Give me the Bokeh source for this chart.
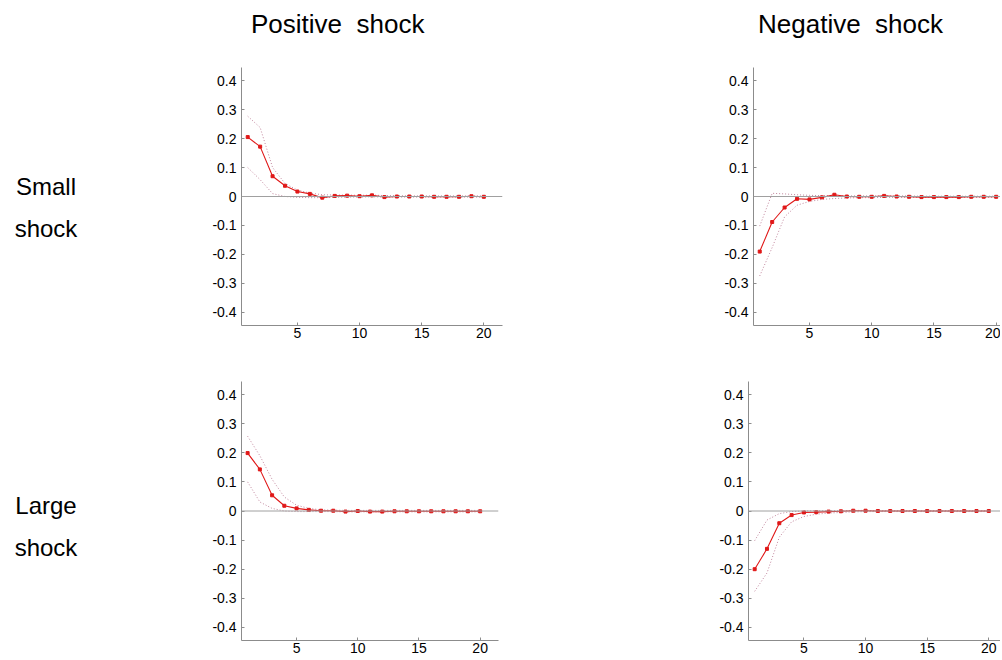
from bokeh.plotting import figure
from bokeh.layouts import row, column
from bokeh.models import Div, Spacer, Span, Range1d, FixedTicker
from bokeh.embed import file_html
from bokeh.resources import INLINE

# ---------------- data ----------------
STEPS = list(range(1, 21))
X_TICKS = [5, 10, 15, 20]
Y_TICKS = [-0.4, -0.3, -0.2, -0.1, 0.0, 0.1, 0.2, 0.3, 0.4]
Y_TICK_LABELS = ["-0.4", "-0.3", "-0.2", "-0.1", "0", "0.1", "0.2", "0.3", "0.4"]

COL_TITLES = ["Positive  shock", "Negative  shock"]
ROW_TITLES = [["Small", "shock"], ["Large", "shock"]]

# small positive shock
sp_mean = [0.205, 0.172, 0.070, 0.037, 0.017, 0.009, -0.004, 0.002, 0.003, 0.001,
           0.004, -0.002, 0.000, 0.000, 0.000, -0.001, -0.001, -0.001, 0.001, -0.001]
sp_upper = [0.277, 0.238, 0.100, 0.045, 0.022, 0.012, 0.006, 0.005, 0.005, 0.004,
            0.005, 0.003, 0.003, 0.002, 0.002, 0.002, 0.002, 0.002, 0.002, 0.002]
sp_lower = [0.100, 0.058, 0.010, 0.000, -0.003, -0.004, -0.004, -0.003, -0.002, -0.002,
            -0.001, -0.002, -0.002, -0.002, -0.002, -0.002, -0.002, -0.002, -0.002, -0.002]

# small negative shock
sn_mean = [-0.190, -0.088, -0.038, -0.008, -0.010, -0.003, 0.006, 0.000, -0.001, -0.001,
           0.002, 0.000, -0.001, -0.002, -0.002, -0.002, -0.002, -0.001, -0.001, -0.001]
sn_upper = [-0.102, 0.011, 0.009, 0.006, 0.004, 0.003, 0.003, 0.002, 0.002, 0.002,
            0.002, 0.002, 0.002, 0.001, 0.001, 0.001, 0.001, 0.001, 0.001, 0.001]
sn_lower = [-0.274, -0.176, -0.070, -0.030, -0.017, -0.010, -0.007, -0.005, -0.004, -0.004,
            -0.003, -0.003, -0.003, -0.003, -0.003, -0.003, -0.003, -0.003, -0.003, -0.003]

# large positive shock
lp_mean = [0.199, 0.143, 0.054, 0.018, 0.009, 0.004, 0.001, 0.001, -0.002, 0.000,
           -0.002, -0.002, -0.001, -0.001, -0.001, -0.001, -0.001, -0.001, -0.001, -0.001]
lp_upper = [0.257, 0.190, 0.109, 0.048, 0.020, 0.009, 0.004, 0.003, 0.002, 0.002,
            0.002, 0.002, 0.002, 0.002, 0.002, 0.002, 0.002, 0.002, 0.002, 0.002]
lp_lower = [0.100, 0.031, 0.009, 0.000, -0.002, -0.002, -0.002, -0.002, -0.003, -0.003,
            -0.003, -0.003, -0.003, -0.003, -0.003, -0.003, -0.003, -0.003, -0.003, -0.003]

# large negative shock
ln_mean = [-0.200, -0.130, -0.042, -0.014, -0.005, -0.004, -0.002, -0.001, 0.001, 0.001,
           0.000, 0.000, 0.000, 0.000, 0.000, 0.000, 0.000, 0.000, 0.000, 0.000]
ln_upper = [-0.102, -0.031, -0.009, -0.002, 0.000, 0.001, 0.001, 0.001, 0.002, 0.002,
            0.001, 0.001, 0.001, 0.001, 0.001, 0.001, 0.001, 0.001, 0.001, 0.001]
ln_lower = [-0.276, -0.213, -0.090, -0.037, -0.019, -0.011, -0.007, -0.005, -0.003, -0.002,
            -0.002, -0.002, -0.002, -0.002, -0.002, -0.002, -0.002, -0.002, -0.002, -0.002]

# ---------------- style ----------------
FONT = "'Liberation Sans', Arial, sans-serif"
RED = "#e01818"
BAND = "#c0859c"
AXIS = "#8c8c8c"


def make_panel(mean, upper, lower, width, height, bl, br, bt, bb, x_end):
    p = figure(width=width, height=height,
               x_range=Range1d(0.5, x_end), y_range=Range1d(-0.445, 0.445),
               output_backend="svg", toolbar_location=None,
               min_border_left=bl, min_border_right=br,
               min_border_top=bt, min_border_bottom=bb,
               background_fill_color="white", border_fill_color="white")
    p.outline_line_color = None
    p.grid.visible = False
    p.add_layout(Span(location=0, dimension="width", line_color="#a0a0a0", line_width=1))
    p.line(STEPS, upper, line_color=BAND, line_width=1, line_dash="1 2")
    p.line(STEPS, lower, line_color=BAND, line_width=1, line_dash="1 2")
    p.line(STEPS, mean, line_color=RED, line_width=1.1)
    p.scatter(STEPS, mean, marker="square", size=3, fill_color=RED, line_color=RED)

    p.xaxis.ticker = FixedTicker(ticks=X_TICKS)
    p.yaxis.ticker = FixedTicker(ticks=Y_TICKS)
    p.yaxis.major_label_overrides = {t: l for t, l in zip(Y_TICKS, Y_TICK_LABELS)}
    for ax in (p.xaxis[0], p.yaxis[0]):
        ax.axis_line_color = AXIS
        ax.major_tick_line_color = AXIS
        ax.major_tick_in = 3
        ax.major_tick_out = 0
        ax.minor_tick_line_color = None
        ax.major_label_text_font = "Liberation Sans"
        ax.major_label_text_font_size = "14px"
        ax.major_label_text_color = "black"
    p.xaxis.major_label_standoff = 2
    p.yaxis.major_label_standoff = 5
    return p


fig_sp = make_panel(sp_mean, sp_upper, sp_lower, 404, 310, 133, 10, 12, 32, 21.5)
fig_sn = make_panel(sn_mean, sn_upper, sn_lower, 488, 310, 241, 0, 11, 40, 20.35)
fig_lp = make_panel(lp_mean, lp_upper, lp_lower, 404, 293, 133, 14, 10, 18, 21.5)
fig_ln = make_panel(ln_mean, ln_upper, ln_lower, 488, 293, 236, 0, 16, 18, 20.95)


def title_div(txt, width):
    html = ('<div style="font-family:%s;font-size:26px;line-height:30px;'
            'padding-top:9px;color:black;white-space:pre;text-align:left;">%s</div>' % (FONT, txt))
    return Div(text=html, width=width, height=55, margin=0)


def side_div(lines, height, pad):
    html = ('<div style="font-family:%s;font-size:24px;line-height:42px;'
            'padding-top:%dpx;color:black;text-align:center;width:76px;">%s</div>'
            % (FONT, pad, "<br>".join(lines)))
    return Div(text=html, width=76, height=height, margin=0)


title_row = row(Spacer(width=251, height=55), title_div(COL_TITLES[0], 330),
                Spacer(width=177, height=55), title_div(COL_TITLES[1], 242))
row1 = row(Spacer(width=8, height=310), side_div(ROW_TITLES[0], 310, 111),
           Spacer(width=24, height=310), fig_sp, fig_sn)
row2 = row(Spacer(width=8, height=293), side_div(ROW_TITLES[1], 293, 120),
           Spacer(width=24, height=293), fig_lp, fig_ln)

layout = column(title_row, row1, row2)

open("out.html", "w").write(file_html(layout, INLINE))
